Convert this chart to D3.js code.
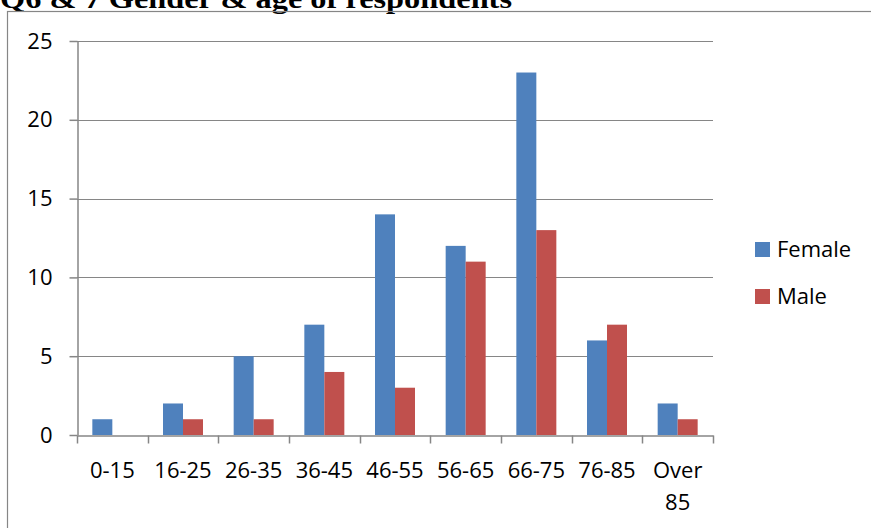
<!DOCTYPE html>
<html>
<head>
<meta charset="utf-8">
<script src="https://cdn.jsdelivr.net/npm/d3@7"></script>
<style>
  body { margin: 0; background: #fff; }
  svg { display: block; }
</style>
</head>
<body>
<div id="chart"></div>
<script>
// donnees
const categories = ["0-15", "16-25", "26-35", "36-45", "46-55", "56-65", "66-75", "76-85", "Over 85"];
const female = [1, 2, 5, 7, 14, 12, 23, 6, 2];
const male = [0, 1, 1, 4, 3, 11, 13, 7, 1];
const seriesNames = ["Female", "Male"];
const yTicks = [0, 5, 10, 15, 20, 25];

const width = 871;
const height = 528;
const marginLeft = 77;
const marginRight = 158;
const marginTop = 41;
const zeroY = 435;
const colors = ["#4F81BD", "#C0504D"];
const labelFont = "Open Sans, sans-serif";
const labelSize = 22;

const svg = d3.select("#chart")
    .append("svg")
    .attr("width", width)
    .attr("height", height);

// titre (coupe en haut, comme sur l'original)
svg.append("text")
    .attr("x", 0)
    .attr("y", 8)
    .attr("font-family", "Liberation Serif, Times New Roman, serif")
    .attr("font-weight", "bold")
    .attr("font-size", 27)
    .attr("textLength", 512)
    .attr("lengthAdjust", "spacingAndGlyphs")
    .text("Q6 & 7 Gender & age of respondents");

// cadre du graphique
svg.append("rect")
    .attr("x", 7.5)
    .attr("y", 11.5)
    .attr("width", 870)
    .attr("height", 530)
    .attr("fill", "none")
    .attr("stroke", "#868686")
    .attr("stroke-width", 1.2);

const x0 = d3.scaleBand()
    .domain(categories)
    .range([marginLeft, width - marginRight])
    .paddingInner(0.434)
    .paddingOuter(0.217);

const x1 = d3.scaleBand()
    .domain(seriesNames)
    .range([0, x0.bandwidth()]);

const y = d3.scaleLinear()
    .domain([0, 25])
    .range([zeroY, marginTop]);

// lignes de grille
svg.append("g")
    .selectAll("line")
    .data(yTicks.filter(d => d > 0))
    .join("line")
    .attr("x1", marginLeft)
    .attr("x2", width - marginRight)
    .attr("y1", d => Math.round(y(d)) + 0.5)
    .attr("y2", d => Math.round(y(d)) + 0.5)
    .attr("stroke", "#868686")
    .attr("stroke-width", 1.2);

// barres
const groups = svg.append("g")
    .selectAll("g")
    .data(categories)
    .join("g")
    .attr("transform", d => `translate(${x0(d)},0)`);

groups.selectAll("rect")
    .data((d, i) => [female[i], male[i]].map((v, j) => ({ key: seriesNames[j], value: v, j: j })))
    .join("rect")
    .attr("x", d => x1(d.key))
    .attr("y", d => y(d.value))
    .attr("width", x1.bandwidth())
    .attr("height", d => y(0) - y(d.value))
    .attr("fill", d => colors[d.j]);

// axe Y
const yAxis = svg.append("g")
    .attr("transform", `translate(${marginLeft + 0.5},0)`)
    .call(d3.axisLeft(y).tickValues(yTicks).tickSize(8).tickPadding(17).tickSizeOuter(0));

// axe X
const xStep = x0.step();
const xEdges = d3.range(categories.length + 1).map(i => marginLeft + i * xStep);
const xAxis = svg.append("g")
    .attr("transform", `translate(0,${zeroY + 0.5})`)
    .call(d3.axisBottom(x0).tickSize(0).tickPadding(27).tickSizeOuter(0));

xAxis.selectAll(".tick text").each(function(d) {
    const t = d3.select(this);
    if (d === "Over 85") {
        t.text(null);
        t.append("tspan").attr("x", 0).attr("dy", "0.71em").text("Over");
        t.append("tspan").attr("x", 0).attr("dy", "1.45em").text("85");
        t.attr("dy", null);
    }
});

xAxis.selectAll(".edge")
    .data(xEdges)
    .join("line")
    .attr("class", "edge")
    .attr("x1", d => Math.round(d) + 0.5)
    .attr("x2", d => Math.round(d) + 0.5)
    .attr("y1", 0)
    .attr("y2", 8)
    .attr("stroke", "#868686")
    .attr("stroke-width", 1.5);

[yAxis, xAxis].forEach(g => {
    g.select(".domain").attr("stroke", "#868686").attr("stroke-width", 1.5);
    g.selectAll(".tick line").attr("stroke", "#868686").attr("stroke-width", 1.5);
    g.selectAll("text")
        .attr("font-family", labelFont)
        .attr("font-size", labelSize)
        .attr("fill", "#000");
});

// legende
const legend = svg.append("g")
    .selectAll("g")
    .data(seriesNames)
    .join("g")
    .attr("transform", (d, i) => `translate(755,${242 + i * 47})`);

legend.append("rect")
    .attr("width", 15)
    .attr("height", 15)
    .attr("fill", (d, i) => colors[i]);

legend.append("text")
    .attr("x", 22)
    .attr("y", 15)
    .attr("font-family", labelFont)
    .attr("font-size", labelSize)
    .text(d => d);
</script>
</body>
</html>
